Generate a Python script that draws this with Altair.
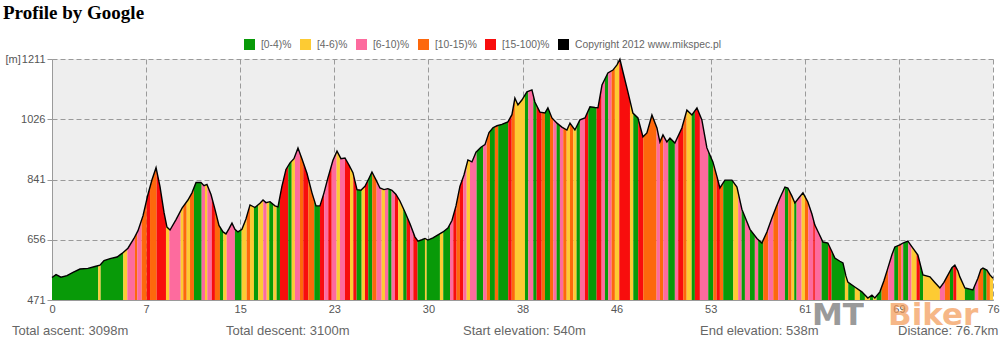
import altair as alt
import numpy as np
import pandas as pd

# ---- elevation profile (distance in km, elevation in m) ----
km = [0, 0.33, 0.73, 1.22, 1.71, 2.28, 2.93, 3.50, 3.91, 4.24, 4.73, 5.30, 5.71, 6.19, 6.68, 7.01,
      7.42, 7.82, 8.15, 8.48, 8.80, 9.13, 9.37, 9.62, 10.11, 10.60, 11.08, 11.41, 11.74, 12.14, 12.39,
      12.63, 12.96, 13.28, 13.61, 13.94, 14.18, 14.43, 14.67, 14.91, 15.16, 15.48, 15.81, 16.14, 16.54,
      16.95, 17.20, 17.44, 17.77, 18.17, 18.42, 18.74, 19.07, 19.40, 19.72, 20.05, 20.37, 20.78, 21.19,
      21.52, 21.84, 22.17, 22.49, 22.90, 23.23, 23.55, 23.88, 24.21, 24.53, 24.86, 25.18, 25.51, 25.84,
      26.08, 26.41, 26.73, 27.06, 27.38, 27.71, 28.04, 28.36, 28.77, 29.18, 29.58, 29.83, 30.15, 30.40,
      30.64, 31.05, 31.46, 31.87, 32.27, 32.60, 32.93, 33.25, 33.58, 33.90, 34.23, 34.56, 34.96, 35.29,
      35.62, 35.94, 36.27, 36.67, 37.16, 37.49, 37.73, 37.98, 38.30, 38.71, 39.12, 39.36, 39.77, 40.18,
      40.42, 40.75, 41.16, 41.56, 41.97, 42.22, 42.62, 43.03, 43.44, 43.85, 44.25, 44.50, 44.83, 45.31,
      45.72, 46.05, 46.29, 46.54, 46.94, 47.35, 47.76, 48.17, 48.49, 48.90, 49.31, 49.55, 49.80, 50.12,
      50.37, 50.77, 51.34, 51.75, 52.16, 52.57, 52.97, 53.38, 53.87, 54.20, 54.44, 54.85, 55.42, 55.83,
      56.23, 56.89, 57.46, 57.86, 58.27, 58.68, 59.01, 59.33, 59.74, 59.98, 60.31, 60.55, 60.88, 61.21,
      61.61, 61.94, 62.18, 62.51, 62.84, 63.24, 63.57, 63.81, 64.22, 64.47, 64.71, 64.87, 65.44, 66.01,
      66.50, 66.83, 67.07, 67.48, 67.81, 68.13, 68.46, 68.70, 69.11, 69.36, 69.76, 70.17, 70.58, 70.99,
      71.56, 71.96, 72.37, 72.70, 72.94, 73.35, 73.59, 73.84, 74.00, 74.41, 75.06, 75.47, 75.71, 75.88,
      76.20, 76.45, 76.70]
elev = [540, 549, 541, 546, 556, 566, 568, 574, 578, 592, 598, 603, 614, 630, 660, 684,
        730, 795, 840, 877, 820, 740, 695, 686, 718, 753, 778, 800, 832, 832, 822,
        826, 795, 750, 700, 680, 674, 690, 707, 688, 680, 688, 720, 763, 755,
        768, 778, 770, 773, 760, 757, 820, 872, 892, 905, 938, 905, 860, 800,
        760, 760, 800, 846, 900, 928, 905, 907, 885, 862, 810, 808, 820, 845,
        864, 840, 815, 810, 813, 808, 795, 775, 741, 705, 665, 652, 656, 660,
        655, 662, 671, 680, 692, 715, 760, 820, 855, 901, 895, 925, 940, 948,
        985, 1000, 1006, 1010, 1018, 1040, 1091, 1070, 1085, 1110, 1116, 1079, 1048, 1045,
        1061, 1030, 1014, 1002, 993, 1014, 993, 1024, 1030, 1064, 1062, 1061, 1131, 1168,
        1177, 1193, 1210, 1171, 1110, 1045, 1030, 972, 984, 1039, 999, 956, 978, 956,
        968, 953, 999, 1054, 1039, 1061, 1024, 938, 895, 850, 815, 839, 839, 818,
        750, 688, 660, 646, 680, 723, 755, 784, 818, 815, 790, 769, 785, 800,
        772, 735, 701, 675, 649, 646, 620, 600, 590, 585, 545, 526, 511, 496,
        477, 486, 477, 496, 530, 569, 610, 634, 640, 646, 652, 630, 609, 548,
        542, 525, 508, 525, 542, 570, 578, 560, 542, 508, 502, 538, 565, 569,
        563, 548, 538]

# ---- gradient stripes: end of each stripe (km) and its gradient class ----
stripe_end_km = [3.77, 3.97, 5.81, 6.14, 6.76, 6.95, 7.31, 7.72, 7.99, 8.53, 9.29, 9.56, 10.49, 10.70,
                 10.98, 11.25, 11.57, 12.20, 12.47, 12.66, 13.02, 13.28, 13.69, 13.96, 14.24, 14.91,
                 15.46, 15.87, 16.14, 16.46, 16.81, 17.22, 17.50, 17.71, 18.04, 18.31, 18.58, 19.26,
                 19.54, 19.80, 20.21, 20.48, 20.89, 21.38, 21.84, 22.19, 22.52, 22.80, 23.20, 23.47,
                 23.88, 24.29, 24.56, 24.83, 25.24, 25.51, 25.78, 26.10, 26.46, 26.87, 27.14, 27.41,
                 27.68, 27.95, 28.22, 28.63, 28.91, 29.18, 29.45, 29.80, 30.40, 30.54, 31.62, 31.89,
                 32.44, 32.71, 32.98, 33.25, 33.52, 33.80, 34.07, 34.61, 35.15, 35.43, 35.70, 36.10,
                 36.37, 37.19, 37.47, 37.73, 38.55, 38.82, 39.23, 39.50, 39.91, 40.18, 40.59, 40.86,
                 41.13, 41.40, 41.67, 41.95, 42.22, 42.49, 42.76, 43.03, 43.44, 43.71, 44.39, 44.80,
                 45.07, 45.34, 45.61, 45.88, 46.24, 47.11, 47.38, 47.78, 48.19, 49.28, 49.55, 49.82,
                 50.23, 50.77, 51.04, 51.45, 51.73, 52.14, 52.40, 52.81, 53.49, 53.90, 54.17, 54.44,
                 54.71, 55.53, 55.93, 56.21, 56.48, 56.89, 57.29, 57.56, 57.97, 58.38, 58.79, 59.19,
                 59.74, 60.01, 60.28, 60.50, 60.69, 61.10, 61.37, 61.64, 62.05, 62.18, 62.73, 63.27,
                 63.54, 64.63, 64.90, 65.44, 65.85, 66.26, 66.67, 66.94, 67.21, 67.62, 68.16, 68.65,
                 68.97, 69.25, 69.38, 69.79, 70.06, 70.47, 70.74, 71.01, 72.37, 72.78, 73.19, 73.46,
                 73.73, 74.41, 75.22, 75.49, 75.90, 76.18, 76.45, 76.70]
stripe_class = list(
    "GYGYPOPOROR"   # to 9.29
    "YPYOYOGPYPRO"  # to 13.69
    "GYPGYOYGYPYGYG"  # to 18.58
    "RGYPOROGRPRPYPRYRGYRGOPYPGPRYGRPRGYGYGPRORPYPGPOGOGROYGPGRO"  # to 40.18
    "GOPGPOYOYGPRGRPGPOYRYGROPOPGPROYGRPGORO"  # to 54.71
    "GYPGPGPGOPOPGOYGPYOPRPGRGYGYGY"  # to 66.67
    "GYGOPGOPGPYRGYPOGRYGPOGOY"  # to 76.70
)

CLS = {"G": "[0-4)%", "Y": "[4-6)%", "P": "[6-10)%", "O": "[10-15)%", "R": "[15-100)%"}
legend_domain = ["[0-4)%", "[4-6)%", "[6-10)%", "[10-15)%", "[15-100)%",
                 "Copyright 2012 www.mikspec.pl"]
legend_colors = ["#089a08", "#fdcb33", "#fd6b9e", "#fd680c", "#f80d0d", "#000000"]

x_ticks = [0, 7.67, 15.34, 23.01, 30.68, 38.35, 46.02, 53.69, 61.36, 69.03, 76.7]
y_ticks = [471, 656, 841, 1026, 1211]

summary = ["Total ascent: 3098m", "Total descent: 3100m", "Start elevation: 540m",
           "End elevation: 538m", "Distance: 76.7km"]

# ---- build stripe polygons clipped to the profile ----
n = min(len(stripe_end_km), len(stripe_class))
kma = np.array(km, dtype=float)
ela = np.array(elev, dtype=float)
rows = []
start = 0.0
for i in range(n):
    end = stripe_end_km[i]
    xs = [start] + [k for k in km if start < k < end] + [end]
    for xv in xs:
        rows.append({"km": xv, "elev": float(np.interp(xv, kma, ela)), "base": 471,
                     "sid": i, "cls": CLS[stripe_class[i]]})
    start = end
stripes = pd.DataFrame(rows)
profile = pd.DataFrame({"km": km, "elev": elev})
one = pd.DataFrame({"k": [0]})

FONT = "Liberation Sans"
xscale = alt.Scale(domain=[0, 76.7], nice=False, zero=False)
yscale = alt.Scale(domain=[471, 1211], nice=False, zero=False)
cscale = alt.Scale(domain=legend_domain, range=legend_colors)

xaxis = alt.Axis(values=x_ticks, labelExpr="floor(datum.value)", grid=True, gridDash=[5, 3],
                 gridColor="#9a9a9a", ticks=False, domainColor="#9a9a9a", labelColor="#555",
                 labelFontSize=11, labelFont=FONT, title=None, labelPadding=3, labelFlush=False)
yaxis = alt.Axis(values=y_ticks, format="d", grid=True, gridDash=[5, 3], gridColor="#9a9a9a",
                 domainColor="#9a9a9a", tickColor="#9a9a9a", tickSize=5, labelColor="#555",
                 labelFontSize=11, labelFont=FONT, labelPadding=2, labelFlush=False,
                 title="[m]", titleAngle=0, titleX=-47, titleY=0, titleAlign="left",
                 titleBaseline="middle", titleFontWeight="normal", titleFontSize=11,
                 titleColor="#555", titleFont=FONT)

area = alt.Chart(stripes).mark_area(opacity=1, strokeWidth=0).encode(
    x=alt.X("km:Q", scale=xscale, axis=xaxis),
    y=alt.Y("elev:Q", scale=yscale, axis=yaxis, stack=None),
    y2="base:Q",
    detail="sid:N",
    color=alt.Color("cls:N", scale=cscale, legend=alt.Legend(
        orient="none", legendX=192, legendY=-20, direction="horizontal",
        symbolType="square", symbolSize=121, symbolStrokeWidth=0, labelFontSize=10.3,
        labelColor="#666", labelFont=FONT, columnPadding=8, labelOffset=6, title=None)),
)

line = alt.Chart(profile).mark_line(color="black", strokeWidth=1.4).encode(
    x=alt.X("km:Q", scale=xscale),
    y=alt.Y("elev:Q", scale=yscale),
)

text_x = [-40, 174, 411, 648, 846]
texts = [
    alt.Chart(one).mark_text(text=s, align="left", baseline="middle", font=FONT,
                             fontSize=13, color="#666").encode(
        x=alt.value(tx), y=alt.value(272))
    for s, tx in zip(summary, text_x)
]

logo_mt = alt.Chart(one).mark_text(text="MT", align="left", baseline="middle",
                                   font="DejaVu Sans", fontWeight="bold", fontSize=31,
                                   color="#707070", opacity=0.7).encode(
    x=alt.value(760), y=alt.value(257))
logo_biker = alt.Chart(one).mark_text(text="Biker", align="left", baseline="middle",
                                      font="DejaVu Sans", fontWeight="bold", fontSize=31,
                                      color="#f39a55", opacity=0.7).encode(
    x=alt.value(836), y=alt.value(257))

chart = alt.layer(area, line, *texts, logo_mt, logo_biker).properties(
    width=941, height=241,
    padding={"left": 52, "top": 59, "right": 13, "bottom": 44},
    autosize=alt.AutoSizeParams(type="none"),
    title=alt.TitleParams("Profile by Google", anchor="start", dx=-49, font="Liberation Serif",
                          fontSize=19, fontWeight="bold", color="black", offset=1,
                          baseline="alphabetic", frame="group"),
    background="white",
).configure_view(fill="#eeeeee", stroke=None)

chart.save("out.html", embed_options={"renderer": "svg", "actions": False})
